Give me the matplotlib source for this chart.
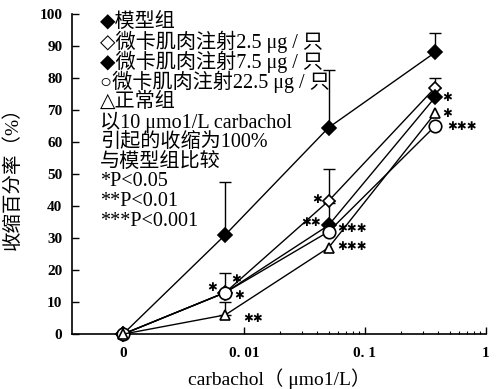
import numpy as np
import matplotlib
matplotlib.use("Agg")
import matplotlib.pyplot as plt

plt.rcParams['font.family'] = ['Liberation Serif', 'DejaVu Sans', 'Noto Sans CJK SC']

# concentrations (umol/L); 0 is drawn at a break position one decade below 0.01
conc = [0, 0.007, 0.05, 0.38]
model = [0, 31, 64.5, 88]
g25 = [0, 13, 41.6, 77]
g75 = [0, 13, 34, 74]
g225 = [0, 13, 32, 65]
normal = [0, 6, 27, 69]
model_err = [0, 16.5, 18, 6]
g25_err = [0, 6, 10, 3]
g75_err = [0, 0, 7, 0]
normal_err = [0, 4, 0, 0]

xtick_vals = [0, 0.01, 0.1, 1]
xtick_labels = ["0", "0. 01", "0. 1", "1"]
yticks = [0, 10, 20, 30, 40, 50, 60, 70, 80, 90, 100]

legend_lines = ["◆模型组", "◇微卡肌肉注射2.5 μg / 只", "◆微卡肌肉注射7.5 μg / 只",
                "○微卡肌肉注射22.5 μg / 只", "△正常组", "以10 μmo1/L carbachol",
                "引起的收缩为100%", "与模型组比较", "*P<0.05", "**P<0.01", "***P<0.001"]

# significance marks: (concentration, y, number of stars)
stars = [(0.0055, 14.7, 1), (0.0087, 17, 1), (0.0091, 12, 1), (0.0118, 5, 2),
         (0.040, 42, 1), (0.036, 35, 2), (0.078, 33, 3), (0.078, 27.5, 3),
         (0.48, 74, 1), (0.48, 69, 1), (0.64, 65, 3)]


def pos(c):
    c = np.asarray(c, dtype=float)
    return np.where(c > 0, np.log10(np.where(c > 0, c, 1)), -3.0)


fig = plt.figure(figsize=(5.01, 3.89), dpi=100)
ax = fig.add_axes([0.144, 0.141, 0.826, 0.823])

x = pos(conc)
series = [
    (model, model_err, dict(marker='D', mfc='black', mec='black', ms=7)),
    (g25, g25_err, dict(marker='D', mfc='white', mec='black', ms=6)),
    (g75, g75_err, dict(marker='D', mfc='black', mec='black', ms=7)),
    (g225, [0] * 4, dict(marker='o', mfc='white', mec='black', ms=9)),
    (normal, normal_err, dict(marker='^', mfc='white', mec='black', ms=7)),
]
for vals, err, st in series:
    vals = np.asarray(vals, float)
    err = np.asarray(err, float)
    m = err > 0
    if m.any():
        ax.errorbar(x[m], vals[m], yerr=[np.zeros(m.sum()), err[m]], fmt='none',
                    ecolor='black', elinewidth=1, capsize=4, capthick=1, clip_on=False)
    ax.plot(x, vals, color='black', lw=1, mew=1.2, clip_on=False, zorder=3, **st)

for c, yv, n in stars:
    ax.text(float(pos(c)), yv, "✱" * n, fontsize=8.5, ha='center', va='center',
            family='DejaVu Sans')

ax.set_xlim(-3.42, 0)
ax.set_ylim(0, 100)
ax.set_xticks(pos(xtick_vals))
ax.set_xticklabels(xtick_labels, fontsize=11, fontweight='bold')
minor = [np.log10(m * d) for d in (0.01, 0.1) for m in range(2, 10)]
ax.set_xticks(minor, minor=True)
ax.set_yticks(yticks)
ax.set_yticklabels([str(v) for v in yticks], fontsize=11, fontweight='bold')
ax.tick_params(axis='both', which='major', direction='in', length=5, width=1)
ax.tick_params(axis='x', which='major', pad=9)
ax.tick_params(axis='x', which='minor', direction='in', length=2.5, width=0.8)
ax.tick_params(axis='y', pad=7)
for s in ('top', 'right'):
    ax.spines[s].set_visible(False)
for s in ('left', 'bottom'):
    ax.spines[s].set_linewidth(1.2)

ax.set_xlabel("carbachol（ μmo1/L）", fontsize=14, labelpad=6)
ax.set_ylabel("收缩百分率（%）", fontsize=14)
ax.yaxis.set_label_coords(-0.121, 0.5)

for i, line in enumerate(legend_lines):
    fig.text(100 / 501, 1 - (22 + i * 20) / 389, line, fontsize=14.5, ha='left', va='center')

fig.savefig("out.png", dpi=100)
